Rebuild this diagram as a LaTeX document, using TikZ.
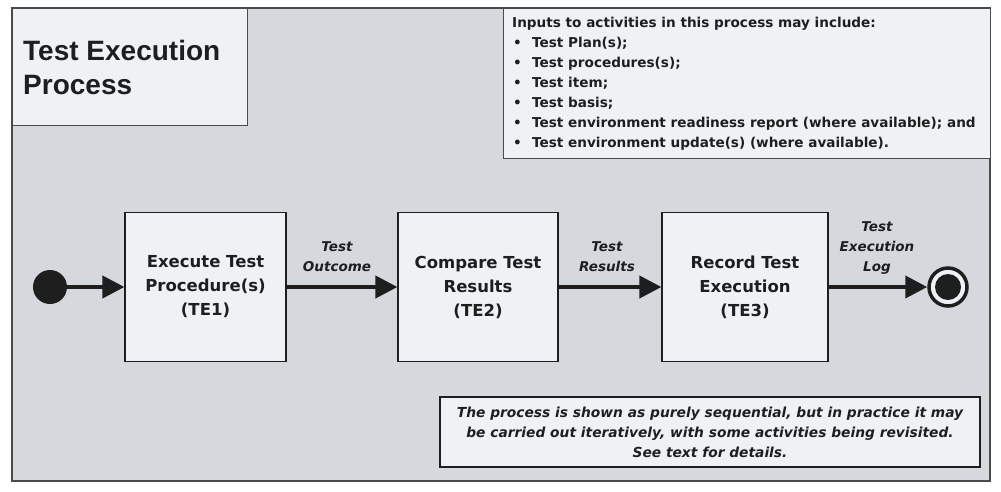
\documentclass[tikz,border=0pt]{standalone}
\usepackage{fontspec}
\setmainfont{DejaVu Sans}
\newfontfamily\titlefont{Liberation Sans}
\usetikzlibrary{arrows.meta,positioning}
\definecolor{bggray}{HTML}{D5D8DC}
\definecolor{boxfill}{HTML}{EFF2F4}
\definecolor{framecol}{HTML}{4A4A4A}
\definecolor{inkcol}{HTML}{1E1E1E}
\tikzset{
  actbox/.style={draw=inkcol, line width=1.2pt, fill=boxfill, text=inkcol, align=center,
    minimum height=149pt, inner sep=0pt, font=\bfseries\fontsize{16.5}{24}\selectfont},
  flowlabel/.style={align=center, text=inkcol, font=\bfseries\itshape\fontsize{13.5}{20}\selectfont, inner sep=0pt},
  flow/.style={line width=4pt, draw=inkcol, -{Triangle[length=22pt,width=22pt]}, shorten >=0pt}
}
\begin{document}
\begin{tikzpicture}[x=1pt,y=-1pt]
\useasboundingbox (0,0) rectangle (1001,491);
\fill[white] (0,0) rectangle (1001,491);
% outer frame
\draw[framecol, line width=1.2pt, fill=bggray] (12,8) rectangle (990,481);
% title box
\node[draw=framecol, line width=1.2pt, fill=boxfill, minimum width=235pt, minimum height=117pt, inner sep=0pt, anchor=north west] (titlebox) at (12,8) {};
\node[anchor=west, align=left, text=inkcol, font=\titlefont\bfseries\fontsize{28}{34}\selectfont, inner sep=0pt] (title) at (23,67) {Test Execution\\Process};
% inputs box
\node[draw=framecol, line width=1.2pt, fill=boxfill, minimum width=487pt, minimum height=150pt, inner sep=0pt, anchor=north west] (inbox) at (503,8) {};
\node[anchor=north west, align=left, text=inkcol, font=\bfseries\fontsize{13.6}{20}\selectfont, inner sep=0pt] (inputs) at (512,17) {%
Inputs to activities in this process may include:\\
\makebox[20pt][l]{\hspace{1pt}•}Test Plan(s);\\
\makebox[20pt][l]{\hspace{1pt}•}Test procedures(s);\\
\makebox[20pt][l]{\hspace{1pt}•}Test item;\\
\makebox[20pt][l]{\hspace{1pt}•}Test basis;\\
\makebox[20pt][l]{\hspace{1pt}•}Test environment readiness report (where available); and\\
\makebox[20pt][l]{\hspace{1pt}•}Test environment update(s) (where available).};
% activities
\node[actbox, minimum width=161pt] (te1) at (205.5,287) {Execute Test\\Procedure(s)\\(TE1)};
\node[actbox, minimum width=160pt] (te2) at (478,287) {Compare Test\\Results\\(TE2)};
\node[actbox, minimum width=166pt] (te3) at (745,287) {Record Test\\Execution\\(TE3)};
% start / end
\node[circle, fill=inkcol, minimum size=34pt, inner sep=0pt] (start) at (50,287) {};
\node[circle, draw=inkcol, line width=3.5pt, fill=boxfill, minimum size=38pt, inner sep=0pt] (end) at (948,287) {};
\node[circle, fill=inkcol, minimum size=26pt, inner sep=0pt] (endin) at (end.center) {};
% flows
\draw[flow] (start) -- (te1);
\draw[flow] (te1) -- (te2);
\draw[flow] (te2) -- (te3);
\draw[flow] (te3) -- (end);
% labels
\node[flowlabel] (l1) at (337,257) {Test\\Outcome};
\node[flowlabel] (l2) at (607,257) {Test\\Results};
\node[flowlabel] (l3) at (877,248.5) {Test\\Execution\\Log};
% note
\node[draw=inkcol, line width=2pt, fill=boxfill, minimum width=540pt, minimum height=70pt, inner sep=0pt] (notebox) at (710,432) {};
\node[align=center, text=inkcol, font=\bfseries\itshape\fontsize{13.8}{20}\selectfont, inner sep=0pt] (note) at (710,432) {The process is shown as purely sequential, but in practice it may\\be carried out iteratively, with some activities being revisited.\\See text for details.};
\end{tikzpicture}
\end{document}
